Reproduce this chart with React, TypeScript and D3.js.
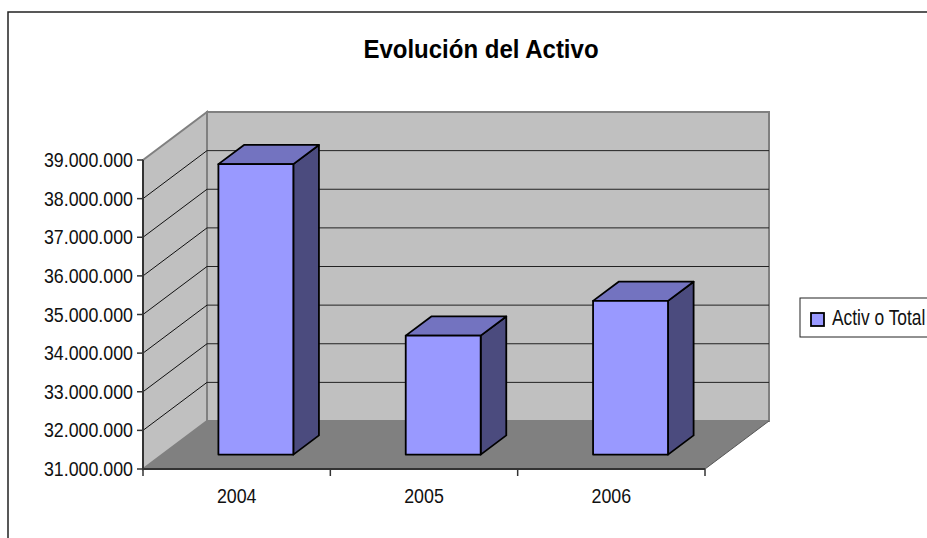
import React from 'react';
import { scaleBand, scaleLinear, formatLocale, range } from 'd3';

const years = ['2004', '2005', '2006'];
const activoTotal = [38520000, 34080000, 34980000];
const valueTicks = range(31000000, 39000001, 1000000);

const width = 927;
const height = 538;

// 3D depth of the plot box and the slab the bars sit in
const depth = { dx: 64, dy: -48 };
const barZ = [0.3, 0.7];

const fmt = formatLocale({
  decimal: ',',
  thousands: '.',
  grouping: [3],
  currency: ['', ''],
}).format(',.0f');

const font = '"Liberation Sans", Arial, sans-serif';

const pts = (p: number[][]) => p.map(d => d.join(',')).join(' ');

export default function App() {
  const xScale = scaleBand().domain(years).range([143, 705]);
  const yScale = scaleLinear().domain([31000000, 39000000]).range([469, 160]);

  const x0 = xScale.range()[0];
  const x1 = xScale.range()[1];
  const yTop = yScale(39000000);
  const yBot = yScale(31000000);
  const bw = xScale.bandwidth() * 0.4;

  const proj = (x: number, y: number, z: number) => [
    x + z * depth.dx,
    y + z * depth.dy,
  ];

  return (
    <svg
      width={width}
      height={height}
      style={{ position: 'absolute', left: 0, top: 0, background: '#fff' }}>
      {/* chart frame */}
      <rect x={8} y={12} width={width + 20} height={height + 20} fill='#fff' stroke='#222' strokeWidth={1.5} />

      {/* title */}
      <text
        transform={`translate(481, 58) scale(0.96, 1)`}
        textAnchor='middle'
        fontFamily={font}
        fontWeight='bold'
        fontSize={25}>
        Evolución del Activo
      </text>

      {/* back wall */}
      <polygon
        points={pts([proj(x0, yTop, 1), proj(x1, yTop, 1), proj(x1, yBot, 1), proj(x0, yBot, 1)])}
        fill='#c0c0c0'
        stroke='#808080'
        strokeWidth={2}
      />
      {/* side wall */}
      <polygon
        points={pts([proj(x0, yTop, 0), proj(x0, yTop, 1), proj(x0, yBot, 1), proj(x0, yBot, 0)])}
        fill='#c0c0c0'
        stroke='#808080'
        strokeWidth={2}
      />
      {/* floor */}
      <polygon
        points={pts([proj(x0, yBot, 0), proj(x0, yBot, 1), proj(x1, yBot, 1), proj(x1, yBot, 0)])}
        fill='#808080'
      />
      <line
        x1={proj(x1, yBot, 0)[0]}
        y1={proj(x1, yBot, 0)[1]}
        x2={proj(x1, yBot, 1)[0]}
        y2={proj(x1, yBot, 1)[1]}
        stroke='#555'
        strokeWidth={1}
      />

      {/* gridlines */}
      {valueTicks.slice(1, -1).map(v => {
        const y = yScale(v);
        const a = proj(x0, y, 0);
        const b = proj(x0, y, 1);
        const c = proj(x1, y, 1);
        return (
          <g key={v}>
            <line x1={a[0]} y1={a[1]} x2={b[0]} y2={b[1]} stroke='#111' strokeWidth={1} />
            <line x1={b[0]} y1={b[1]} x2={c[0]} y2={c[1]} stroke='#222' strokeWidth={1} />
          </g>
        );
      })}

      {/* value axis */}
      <line x1={x0} y1={yTop} x2={x0} y2={yBot} stroke='#333' strokeWidth={2} />
      {valueTicks.map(v => (
        <g key={v}>
          <line x1={x0 - 6} y1={yScale(v)} x2={x0} y2={yScale(v)} stroke='#333' strokeWidth={1.5} />
          <text
            transform={`translate(${x0 - 10}, ${yScale(v) + 7}) scale(0.89, 1)`}
            textAnchor='end'
            fontFamily={font}
            fontSize={20}
            fill='#111'>
            {fmt(v)}
          </text>
        </g>
      ))}

      {/* category axis */}
      <line x1={x0} y1={yBot} x2={x1} y2={yBot} stroke='#333' strokeWidth={2} />
      {[...years.map(d => xScale(d) as number), x1].map((t, i) => (
        <line key={i} x1={t} y1={yBot} x2={t} y2={yBot + 7} stroke='#333' strokeWidth={1.5} />
      ))}
      {years.map(d => (
        <text
          key={d}
          transform={`translate(${(xScale(d) as number) + xScale.bandwidth() / 2}, 503) scale(0.89, 1)`}
          textAnchor='middle'
          fontFamily={font}
          fontSize={20}
          fill='#111'>
          {d}
        </text>
      ))}

      {/* bars */}
      {years.map((d, i) => {
        const cx = (xScale(d) as number) + xScale.bandwidth() / 2;
        const l = cx - bw / 2;
        const r = cx + bw / 2;
        const yt = yScale(activoTotal[i]);
        const [zf, zb] = barZ;
        const flt = proj(l, yt, zf);
        const frt = proj(r, yt, zf);
        const frb = proj(r, yBot, zf);
        const flb = proj(l, yBot, zf);
        const blt = proj(l, yt, zb);
        const brt = proj(r, yt, zb);
        const brb = proj(r, yBot, zb);
        return (
          <g key={d} stroke='#000' strokeWidth={1.8} strokeLinejoin='round'>
            <polygon points={pts([frt, brt, brb, frb])} fill='#4b4b7e' />
            <polygon points={pts([flt, blt, brt, frt])} fill='#7373c0' />
            <polygon points={pts([flt, frt, frb, flb])} fill='#9999ff' />
          </g>
        );
      })}

      {/* legend */}
      <rect x={800} y={298} width={140} height={39} fill='#fff' stroke='#222' strokeWidth={1} />
      <rect x={811} y={313} width={13} height={13} fill='#9999ff' stroke='#000' strokeWidth={1.8} />
      <text
        transform='translate(832, 325) scale(0.79, 1)'
        fontFamily={font}
        fontSize={22}
        fill='#111'>
        Activ o Total
      </text>
    </svg>
  );
}
